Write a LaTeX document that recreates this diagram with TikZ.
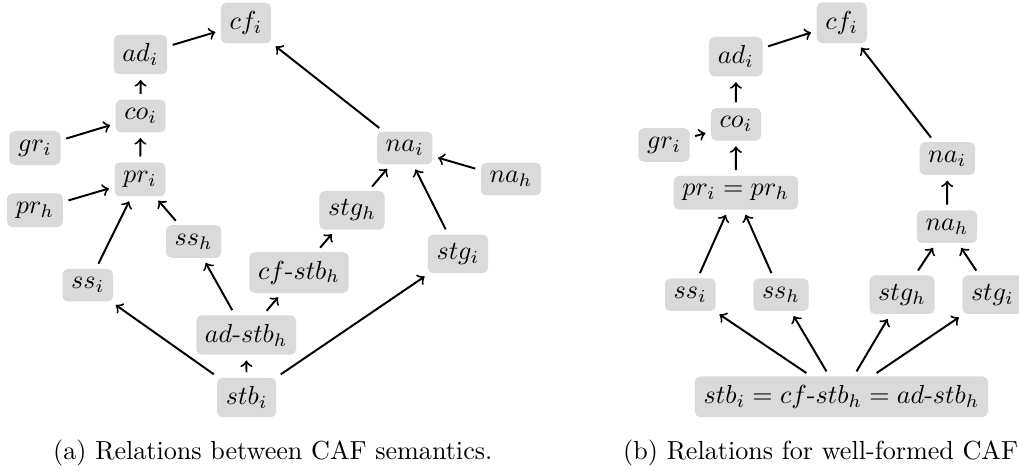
\documentclass[tikz,border=0pt]{standalone}
\definecolor{semfill}{RGB}{218,218,218}
\begin{document}
\begin{tikzpicture}[x=0.383pt,y=-0.383pt,
  sem/.style={fill=semfill, rounded corners=2pt, inner sep=3.33pt},
  rel/.style={->, line width=0.75pt, shorten >=2pt, shorten <=2pt},
  subcaption/.style={anchor=base west, inner sep=0pt}]
\useasboundingbox (0,0) rectangle (1019,470);

% ---------- (a) relations between CAF semantics ----------
\node[sem] (cfiA)   at (246,23)     {$cf_i$};
\node[sem] (adiA)   at (140.5,54.5) {$ad_i$};
\node[sem] (coiA)   at (140.7,116)  {$co_i$};
\node[sem] (griA)   at (35,148)     {$gr_i$};
\node[sem] (priA)   at (140,179.3)  {$pr_i$};
\node[sem] (prhA)   at (35,210.3)   {$pr_h$};
\node[sem] (sshA)   at (193.7,241.5){$ss_h$};
\node[sem] (ssiA)   at (87.8,285.2) {$ss_i$};
\node[sem] (cfstbA) at (299,272.5)  {$cf\mbox{-}stb_h$};
\node[sem] (adstbA) at (246.2,335)  {$ad\mbox{-}stb_h$};
\node[sem] (stbiA)  at (246.7,397.5){$stb_i$};
\node[sem] (naiA)   at (404.7,148)  {$na_i$};
\node[sem] (nahA)   at (511,179)    {$na_h$};
\node[sem] (stghA)  at (352,210.3)  {$stg_h$};
\node[sem] (stgiA)  at (458,253.8)  {$stg_i$};

\draw[rel] (adiA) -- (cfiA);
\draw[rel] (coiA) -- (adiA);
\draw[rel] (griA) -- (coiA);
\draw[rel] (priA) -- (coiA);
\draw[rel] (prhA) -- (priA);
\draw[rel] (ssiA) -- (priA);
\draw[rel] (sshA) -- (priA);
\draw[rel] (adstbA) -- (sshA);
\draw[rel] (adstbA) -- (cfstbA);
\draw[rel] (cfstbA) -- (stghA);
\draw[rel] (stghA) -- (naiA);
\draw[rel] (nahA) -- (naiA);
\draw[rel] (stgiA) -- (naiA);
\draw[rel] (naiA) -- (cfiA);
\draw[rel] (stbiA) -- (adstbA);
\draw[rel] (stbiA) -- (ssiA);
\draw[rel] (stbiA) -- (stgiA);

\node[subcaption] (capA) at (52.7,459.3) {(a) Relations between CAF semantics.};

% ---------- (b) relations for well-formed CAFs ----------
\node[sem] (cfiB)  at (841.7,22.7)  {$cf_i$};
\node[sem] (adiB)  at (735.8,56.7)  {$ad_i$};
\node[sem] (coiB)  at (736,124.3)   {$co_i$};
\node[sem] (griB)  at (664,145)     {$gr_i$};
\node[sem] (priB)  at (735.7,192.7) {$pr_i = pr_h$};
\node[sem] (naiB)  at (947.3,158.5) {$na_i$};
\node[sem] (nahB)  at (947,226.7)   {$na_h$};
\node[sem] (ssiB)  at (690.3,294.7) {$ss_i$};
\node[sem] (sshB)  at (781,294.7)   {$ss_h$};
\node[sem] (stghB) at (902,294.7)   {$stg_h$};
\node[sem] (stgiB) at (992.4,294.7) {$stg_i$};
\node[sem] (stbB)  at (841.5,396.7) {$stb_i = cf\mbox{-}stb_h = ad\mbox{-}stb_h$};

\draw[rel] (adiB) -- (cfiB);
\draw[rel] (coiB) -- (adiB);
\draw[rel] (griB) -- (coiB);
\draw[rel] (priB) -- (coiB);
\draw[rel] (ssiB) -- (priB);
\draw[rel] (sshB) -- (priB);
\draw[rel] (stbB) -- (ssiB);
\draw[rel] (stbB) -- (sshB);
\draw[rel] (stbB) -- (stghB);
\draw[rel] (stbB) -- (stgiB);
\draw[rel] (stghB) -- (nahB);
\draw[rel] (stgiB) -- (nahB);
\draw[rel] (nahB) -- (naiB);
\draw[rel] (naiB) -- (cfiB);

\node[subcaption] (capB) at (622.7,459.3) {(b) Relations for well-formed CAF};
\end{tikzpicture}
\end{document}
